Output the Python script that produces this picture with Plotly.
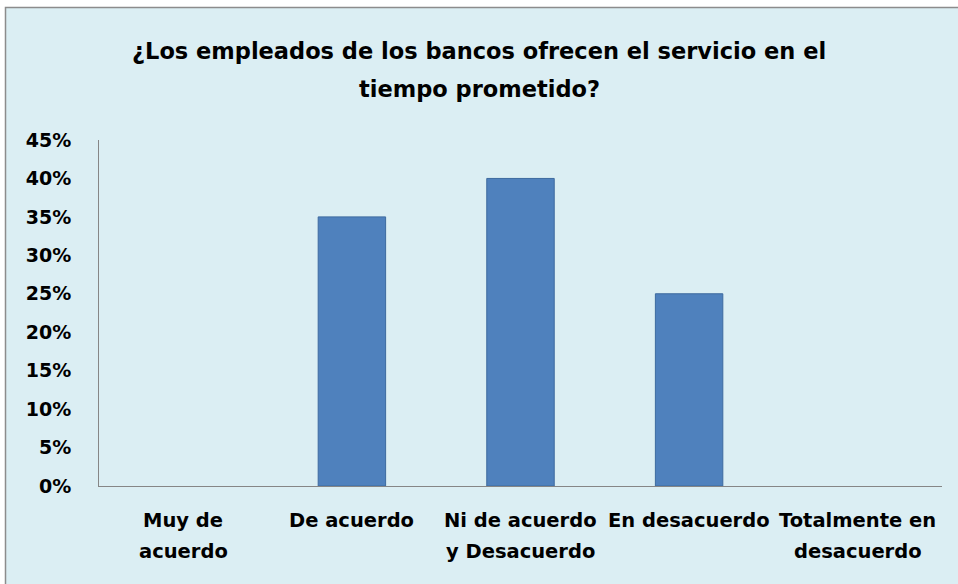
import plotly.graph_objects as go

# Survey answers and share of respondents
categories = ["Muy de acuerdo", "De acuerdo", "Ni de acuerdo y Desacuerdo",
              "En desacuerdo", "Totalmente en desacuerdo"]
category_labels = [["Muy de", "acuerdo"], ["De acuerdo"], ["Ni de acuerdo", "y Desacuerdo"],
                   ["En desacuerdo"], ["Totalmente en", "desacuerdo"]]
shares = [0.0, 0.35, 0.40, 0.25, 0.0]
title_lines = ["¿Los empleados de los bancos ofrecen el servicio en el", "tiempo prometido?"]

W, H = 958, 584
ML, MR, MT, MB = 99, 16, 140, 98
PW, PH = W - ML - MR, H - MT - MB

BG = "#DBEEF3"
AXIS = "#868686"
FONT = "DejaVu Sans"


def px_x(p):
    return (p - ML) / PW


def px_y(p):
    return (H - MB - p) / PH


fig = go.Figure()
fig.add_trace(go.Bar(
    x=categories, y=shares,
    marker=dict(color="#4F81BD",
                # empty categories get no outline so nothing shows on the axis
                line=dict(color="#3D6A9F", width=[1 if v > 0 else 0 for v in shares])),
    width=0.4,
    hoverinfo="skip",
))

annotations = []
# chart title, two lines
for i, line in enumerate(title_lines):
    annotations.append(dict(
        text=f"<b>{line}</b>", xref="paper", yref="paper",
        x=px_x(479), y=px_y(51 + i * 38), xanchor="center", yanchor="middle",
        showarrow=False, font=dict(family=FONT, size=22.5, color="#000000"),
    ))
# category labels below the axis
for cat, lines in zip(categories, category_labels):
    for j, line in enumerate(lines):
        annotations.append(dict(
            text=f"<b>{line}</b>", xref="x", yref="paper",
            x=cat, y=px_y(520 + j * 31), xanchor="center", yanchor="middle",
            showarrow=False, font=dict(family=FONT, size=19.5, color="#000000"),
        ))

fig.update_layout(
    width=W, height=H, autosize=False,
    margin=dict(l=ML, r=MR, t=MT, b=MB, pad=0),
    paper_bgcolor="white", plot_bgcolor="rgba(0,0,0,0)",
    showlegend=False,
    bargap=0.6,
    annotations=annotations,
    shapes=[dict(
        type="rect", xref="paper", yref="paper", layer="below",
        x0=px_x(5.5), x1=px_x(975), y0=px_y(600), y1=px_y(7.5),
        fillcolor=BG, line=dict(color="#8C8C8C", width=1.5),
    )],
    xaxis=dict(
        type="category", range=[-0.5, 4.5], showgrid=False, zeroline=False,
        showline=True, linecolor=AXIS, linewidth=1, ticks="", showticklabels=False,
        fixedrange=True,
    ),
    yaxis=dict(
        range=[0, 0.45], dtick=0.05, tickformat=".0%", showgrid=False, zeroline=False,
        showline=True, linecolor=AXIS, linewidth=1, ticks="",
        ticklabelstandoff=23,
        tickfont=dict(family=FONT, size=19, color="#000000", weight="bold"),
        fixedrange=True,
    ),
)

fig.write_html("out.html", config={"displayModeBar": False})
